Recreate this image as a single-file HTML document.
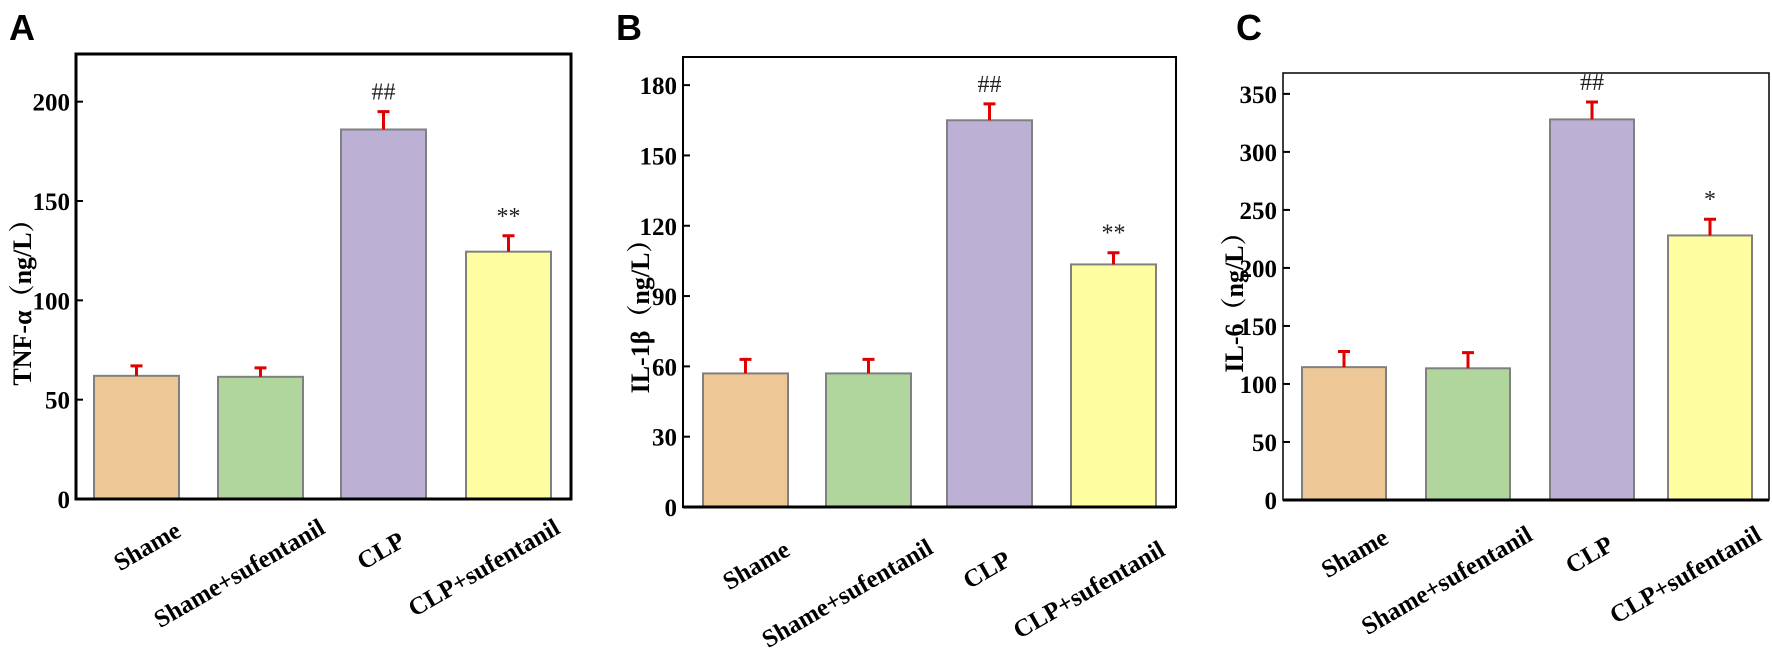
<!DOCTYPE html>
<html><head><meta charset="utf-8"><style>
html,body{margin:0;padding:0;background:#fff;}
svg{display:block;}
text{font-family:"Liberation Serif","Noto Serif CJK SC",serif;font-weight:bold;}
.letter{font-family:"Liberation Sans",sans-serif;font-weight:bold;}
</style></head><body>
<svg id="fig" width="1772" height="648" viewBox="0 0 1772 648" xmlns="http://www.w3.org/2000/svg"></svg>
<script>
const categories = ["Shame", "Shame+sufentanil", "CLP", "CLP+sufentanil"];
const tnfValues = [62, 61.5, 186, 124.5];
const tnfErrors = [5, 4.5, 9, 8];
const tnfTicks = [0, 50, 100, 150, 200];
const tnfSig = ["", "", "##", "**"];
const il1Values = [57, 57, 165, 103.5];
const il1Errors = [6, 6, 7, 5];
const il1Ticks = [0, 30, 60, 90, 120, 150, 180];
const il1Sig = ["", "", "##", "**"];
const il6Values = [114.5, 113.5, 328, 228];
const il6Errors = [13.5, 13.5, 15, 14];
const il6Ticks = [0, 50, 100, 150, 200, 250, 300, 350];
const il6Sig = ["", "", "##", "*"];

const colors = ["#edc896", "#b0d69e", "#bcb0d4", "#fefea0"];
const NS = "http://www.w3.org/2000/svg";
const svg = document.getElementById("fig");
function mk(tag, attrs, parent) {
  const e = document.createElementNS(NS, tag);
  for (const k in attrs) e.setAttribute(k, attrs[k]);
  (parent || svg).appendChild(e);
  return e;
}

const panels = [
  {id:"a", letter:"A", lx:9, ly:40, left:76, right:571, top:54, zero:499, ymax:224, values:tnfValues, errors:tnfErrors, ticks:tnfTicks, sig:tnfSig,
   bars:[94,218,341,466], bw:85, frameW:3, title:"TNF-α（ng/L）", tx:22, ty:296,
   lab:[[36,19],[56,16],[13,29],[43,16]]},
  {id:"b", letter:"B", lx:616, ly:40, left:683, right:1176, top:57, zero:507, ymax:192, values:il1Values, errors:il1Errors, ticks:il1Ticks, sig:il1Sig,
   bars:[703,826,947,1071], bw:85, frameW:2, title:"IL-1β（ng/L）", tx:640, ty:310,
   lab:[[36,30],[56,28],[13,40],[43,30]]},
  {id:"c", letter:"C", lx:1236, ly:40, left:1283, right:1769, top:73, zero:500, ymax:368, values:il6Values, errors:il6Errors, ticks:il6Ticks, sig:il6Sig,
   bars:[1302,1426,1550,1668], bw:84, frameW:1.5, title:"IL-6（ng/L）", tx:1234, ty:296,
   lab:[[36,25],[56,22],[13,32],[43,22]]}
];

panels.forEach(p => {
  const g = mk("g", {});
  
  
  const y = v => p.zero - (v / p.ymax) * (p.zero - p.top);

  const L = mk("text", {x:p.lx, y:p.ly, "font-size":36, class:"letter"}, g);
  L.textContent = p.letter;
  
  

  p.values.forEach((v, i) => {
    const x = p.bars[i];
    const r = mk("rect", {x:x, y:y(v), width:p.bw, height:p.zero - y(v), fill:colors[i], stroke:"#808080", "stroke-width":2}, g);
    
    
    const cx = x + p.bw / 2;
    const et = y(v + p.errors[i]);
    const eb = mk("path", {d:`M${cx},${y(v)}V${et}M${cx-6},${et}H${cx+6}`, stroke:"#e00000", "stroke-width":3, fill:"none"}, g);
    
    
    if (p.sig[i]) {
      const s = mk("text", {x:cx, y:et - 12, "font-size":24, "text-anchor":"middle", fill:"#222"}, g);
      s.style.fontWeight = "normal";
      s.textContent = p.sig[i];
      
      
    }
    const lx = cx + p.lab[i][0], ly = p.zero + p.lab[i][1];
    const t = mk("text", {x:lx, y:ly, "font-size":25, "text-anchor":"end", transform:`rotate(-30 ${lx} ${ly})`, dy:"0.8em"}, g);
    t.textContent = categories[i];
    
    
  });

  const f = mk("rect", {x:p.left, y:p.top, width:p.right - p.left, height:p.zero - p.top, fill:"none", stroke:"#000", "stroke-width":p.frameW}, g);
  
  
  const ax = mk("line", {x1:p.left, x2:p.right, y1:p.zero, y2:p.zero, stroke:"#000", "stroke-width":3}, g);
  
  

  p.ticks.forEach(tv => {
    const ty = y(tv);
    const tk = mk("line", {x1:p.left, x2:p.left + 7, y1:ty, y2:ty, stroke:"#000", "stroke-width":2}, g);
    
    
    const tl = mk("text", {x:p.left - 6, y:ty + 9, "font-size":25, "text-anchor":"end"}, g);
    tl.textContent = tv;
    
    
  });

  const yt = mk("text", {x:p.tx, y:p.ty, "font-size":26, "text-anchor":"middle", transform:`rotate(-90 ${p.tx} ${p.ty})`, dy:"0.35em"}, g);
  yt.textContent = p.title;
  
  
});
</script>
</body></html>
